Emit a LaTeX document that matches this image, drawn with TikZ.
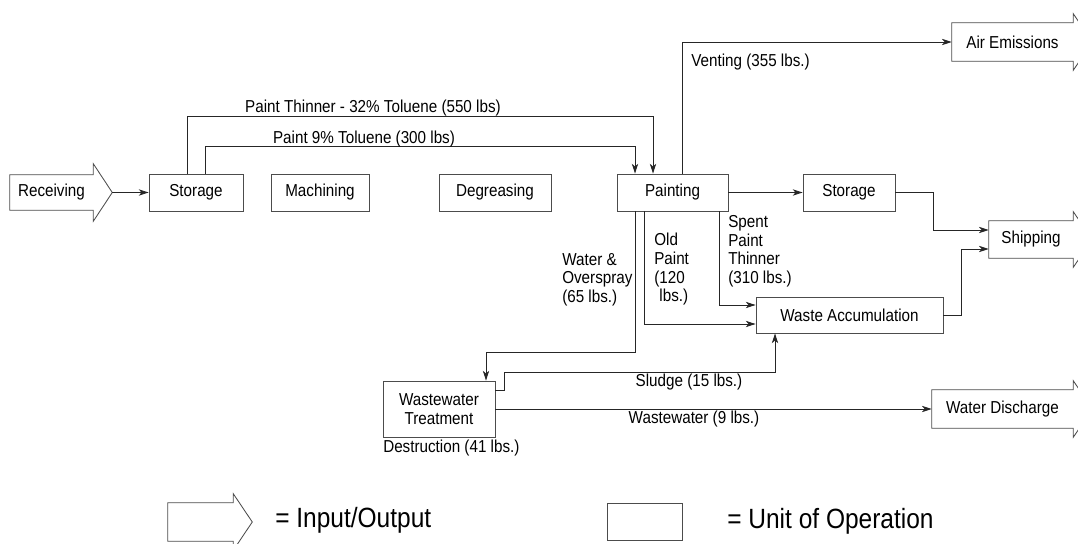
\documentclass[tikz,border=0pt]{standalone}
\usepackage{fontspec}
\setmainfont{Liberation Sans}[FakeStretch=0.88]
\usetikzlibrary{arrows.meta,calc}

\newcommand{\unitpx}{0.025cm}
\newcommand{\lblsize}{\fontsize{12.3}{13.3}\selectfont}
\newcommand{\keysize}{\fontsize{19.8}{22}\selectfont}
% outline of an input/output block round a named body node
\newcommand{\ioshape}[2][9]{%
  \draw[ioline] ($(#2.north east)+(0,-#1)$) -- ($(#2.east)+(19,0)$) -- ($(#2.south east)+(0,#1)$)
    -- (#2.south east) -- (#2.south west) -- (#2.north west) -- (#2.north east) -- cycle;}

\tikzset{
  unitbox/.style 2 args={draw=black!70, line width=0.6pt, rectangle, inner sep=0pt,
    minimum width=#1*\unitpx, minimum height=#2*\unitpx, align=center},
  iobody/.style 2 args={rectangle, inner sep=0pt,
    minimum width=#1*\unitpx, minimum height=#2*\unitpx, align=center},
  ioline/.style={draw=black!70, line width=0.6pt},
  flow/.style={draw=black!85, line width=0.6pt, -{Stealth[length=7pt,width=4.5pt,inset=2pt]}},
  lbl/.style={inner sep=0pt, align=left},
}

\begin{document}
\begin{tikzpicture}[x=0.025cm, y=-0.025cm, font=\lblsize]
\useasboundingbox (0,0) rectangle (1078,544);
\clip (0,0) rectangle (1078,544);

% inputs and outputs
\node[iobody={83}{35}] (receiving) at (51.5,192.5) {Receiving};
\ioshape[11]{receiving}
\node[iobody={121}{38}] (air) at (1012.5,42) {Air Emissions};
\ioshape{air}
\node[iobody={84}{37}] (shipping) at (1031,239.5) {Shipping};
\ioshape{shipping}
\node[iobody={141}{38}] (discharge) at (1002.5,409) {Water Discharge};
\ioshape{discharge}

% units of operation
\node[unitbox={94}{37}] (storageA) at (196,192.5) {Storage};
\node[unitbox={98}{37}] (machining) at (320,192.5) {Machining};
\node[unitbox={112}{37}] (degreasing) at (495,192.5) {Degreasing};
\node[unitbox={111}{37}] (painting) at (672.5,192.5) {Painting};
\node[unitbox={92}{37}] (storageB) at (849,192.5) {Storage};
\node[unitbox={187}{36}] (waste) at (849.5,315) {Waste Accumulation};
\node[unitbox={112}{56}] (treatment) at (439,409) {Wastewater\\Treatment};

% flows
\coordinate (rtip) at ($(receiving.east)+(19,0)$);
\draw[flow] (rtip) -- (storageA.west);
\draw[flow] ($(storageA.north)+(-9,0)$) -- ++(0,-57) -| ($(painting.north)+(-19.5,0)$);
\draw[flow] ($(storageA.north)+(9,0)$) -- ++(0,-27) -| ($(painting.north)+(-37.5,0)$);
\draw[flow] ($(painting.north)+(9.5,0)$) |- (air.west);
\draw[flow] (painting.east) -- (storageB.west);
\draw[flow] (storageB.east) -- ++(38,0) |- ($(shipping.west)+(0,-9.5)$);
\draw[flow] (waste.east) -- ++(18,0) |- ($(shipping.west)+(0,9.5)$);
\draw[flow] ($(painting.south)+(46.5,0)$) |- ($(waste.west)+(0,-10)$);
\draw[flow] ($(painting.south)+(-28.5,0)$) |- ($(waste.west)+(0,9)$);
\draw[flow] ($(painting.south)+(-37.5,0)$) -- ++(0,141) -| ($(treatment.north)+(47,0)$);
\draw[flow] ($(treatment.east)+(0,-19)$) -- ++(9,0) -- ++(0,-18) -| ($(waste.south)+(-74.5,0)$);
\draw[flow] (treatment.east) -- (discharge.west);

% flow labels
\node[lbl] (thinnerlbl) at (373,108) {Paint Thinner - 32\% Toluene (550 lbs)};
\node[lbl] (paintlbl) at (364,139) {Paint 9\% Toluene (300 lbs)};
\node[lbl, anchor=west] (ventlbl) at (691,62) {Venting (355 lbs.)};
\node[lbl, anchor=north west] (spentlbl) at (728,215) {Spent\\Paint\\Thinner\\(310 lbs.)};
\node[lbl, anchor=north west] (oldlbl) at (654,233) {Old\\Paint\\(120\\\hspace*{0.3em}lbs.)};
\node[lbl, anchor=north west] (waterlbl) at (562,253) {Water \&\\Overspray\\(65 lbs.)};
\node[lbl] (sludgelbl) at (689,382) {Sludge (15 lbs.)};
\node[lbl] (wwlbl) at (694,419) {Wastewater (9 lbs.)};
\node[lbl, anchor=west] (destlbl) at (383,448) {Destruction (41 lbs.)};

% key
\node[iobody={65}{38}] (keyio) at (200.5,522) {};
\ioshape{keyio}
\node[lbl, anchor=west, font=\keysize] (keyiolbl) at (275,520) {= Input/Output};
\node[unitbox={75}{37}] (keyunit) at (644.5,521.5) {};
\node[lbl, anchor=west, font=\keysize] (keyunitlbl) at (727,521) {= Unit of Operation};
\end{tikzpicture}
\end{document}
